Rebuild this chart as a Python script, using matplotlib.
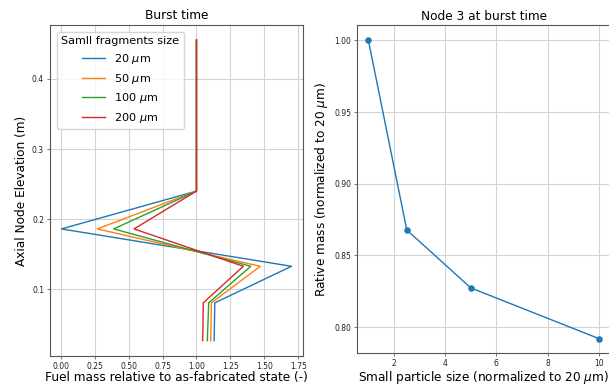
import matplotlib
matplotlib.use("Agg")
import matplotlib.pyplot as plt

# axial node elevations (m)
elevation = [0.0265, 0.0805, 0.1327, 0.186, 0.240, 0.4555]

# fuel mass relative to as-fabricated state, per small fragment size
sizes = ["20 $\\mu$m", "50 $\\mu$m", "100 $\\mu$m", "200 $\\mu$m"]
mass_20 = [1.13, 1.135, 1.70, 0.005, 1.0, 1.0]
mass_50 = [1.105, 1.11, 1.47, 0.27, 1.0, 1.0]
mass_100 = [1.08, 1.09, 1.40, 0.39, 1.0, 1.0]
mass_200 = [1.046, 1.05, 1.345, 0.54, 1.0, 1.0]

# node 3 relative mass vs normalized particle size
norm_size = [1, 2.5, 5, 10]
rel_mass = [1.0, 0.8678, 0.8274, 0.7921]

LBL = 8.7
TCK = 5.5


def style(ax):
    ax.grid(True, color="#d3d3d3", lw=0.8)
    ax.set_axisbelow(True)
    ax.tick_params(labelsize=TCK, length=2.2, width=0.5, pad=2.0,
                   color="#444444", labelcolor="#222222")
    for s in ax.spines.values():
        s.set_color("#555555")
        s.set_linewidth(0.8)


fig = plt.figure(figsize=(6.09, 3.85), dpi=100)

ax1 = fig.add_axes([0.082, 0.076, 0.4155, 0.859])
for m, lab in zip([mass_20, mass_50, mass_100, mass_200], sizes):
    ax1.plot(m, elevation, label=lab, lw=1.0)
style(ax1)
ax1.set_xticks([0, 0.25, 0.5, 0.75, 1.0, 1.25, 1.5, 1.75])
ax1.set_yticks([0.1, 0.2, 0.3, 0.4])
ax1.set_xlabel("Fuel mass relative to as-fabricated state (-)", fontsize=LBL, labelpad=0.3)
ax1.set_ylabel("Axial Node Elevation (m)", fontsize=LBL, labelpad=3)
ax1.set_title("Burst time", fontsize=LBL, pad=4)
ax1.legend(title="Samll fragments size", loc="upper left", fontsize=8.1,
           title_fontsize=8.1, borderaxespad=0.6)

ax2 = fig.add_axes([0.586, 0.082, 0.416, 0.852])
ax2.plot(norm_size, rel_mass, marker="o", ms=3.7, lw=1.0)
style(ax2)
ax2.set_xticks([2, 4, 6, 8, 10])
ax2.set_yticks([0.80, 0.85, 0.90, 0.95, 1.00])
ax2.set_xlabel("Small particle size (normalized to 20 $\\mu$m)", fontsize=LBL, labelpad=0.3)
ax2.set_ylabel("Rative mass (normalized to 20 $\\mu$m)", fontsize=LBL, labelpad=3)
ax2.set_title("Node 3 at burst time", fontsize=LBL, pad=4)

fig.savefig("out.png", dpi=100)
